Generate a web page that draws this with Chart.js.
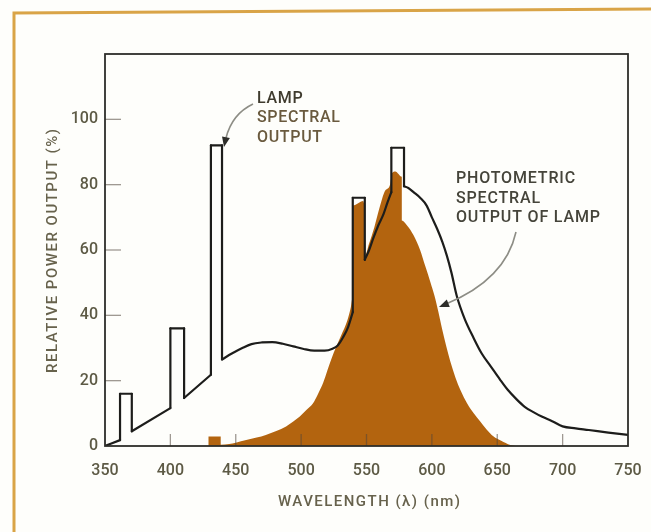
<!DOCTYPE html>
<html lang="en">
<head>
  <meta charset="UTF-8">
  <title>Lamp spectral output</title>
  <script src="https://cdn.jsdelivr.net/npm/chart.js"></script>
  <style>
    html, body { margin:0; padding:0; background:#fefefb; }
    #wrap { width:651px; height:532px; }
  </style>
</head>
<body>
<div id="wrap"><canvas id="c" width="651" height="532"></canvas></div>
<script>
// lamp spectral output (black line), nm / %
const lampNm = [350,361.5,361.5,370.5,370.5,400,400,410.5,410.5,431,431,439.5,439.5,447,455,462,470,478,486,494,502,510,518,524,528,532,536,539.5,539.5,548.7,548.7,552,555,559,563,566,569,569,578.7,578.7,582,586,591,596,600,604,608,611.5,615,619,625,632,638,645,652,658,665,671,678,684,692,700,710,720,735,750];
const lampPct = [0,1.8,16,16,4.5,11.6,36,36,14.7,21.8,92,92,26.5,28.3,30,31.2,31.7,31.8,31.3,30.5,29.7,29.2,29.2,29.8,30.8,33.2,36.5,41,76,76,57,60,63.4,67.5,71,74.5,77.7,91.3,91.3,79.5,79,77.7,76,73.6,70,66.5,62.5,58.2,53,46,39,33,28.4,24.4,20.4,17.2,14.2,12,10.3,9,7.6,6,5.4,4.9,4.1,3.4];

// photometric spectral output of lamp (orange fill)
const photoNm = [429,429,438.5,438.5,445,450,458,466,473,481,488.5,494,499,504,509,513,517,520,523,527,531,535,538,539.7,539.7,547.5,548.5,548.5,552,556,560,564,568,569.5,572,577,577,581,586,591,595,599,602,605,608,611,614,618,622,627,632,637,642,647,653,660,664];
const photoPct = [0,2.9,2.9,0.4,0.6,1,1.8,2.6,3.4,4.6,6,7.5,9,11,13,16,19.5,23,26.5,30.5,34.2,38,42.5,46,73.6,75,74,58,62,67,73,78,80,83.5,84,82.4,69,67.5,64.5,60,55,50,46,41,35.5,30.5,26,21,17,13,10,7.5,5,3,1.6,0.3,0];

const xTicks = [350,400,450,500,550,600,650,700,750];
const yTicks = [0,20,40,60,80,100];

const FONT = "Roboto,'Liberation Sans Narrow','DejaVu Sans',sans-serif";
const INK = '#5d5a45';

function arrowHead(ctx, tx, ty, ang, len, w){
  ctx.beginPath();
  ctx.moveTo(tx, ty);
  ctx.lineTo(tx - len*Math.cos(ang) + w*Math.sin(ang), ty - len*Math.sin(ang) - w*Math.cos(ang));
  ctx.lineTo(tx - len*Math.cos(ang) - w*Math.sin(ang), ty - len*Math.sin(ang) + w*Math.cos(ang));
  ctx.closePath(); ctx.fill();
}

// letter spacing so that the text spans a given width
function spacingFor(ctx, text, width){
  ctx.letterSpacing = '0px';
  const w = ctx.measureText(text).width;
  return Math.max(0, (width - w) / (text.length - 1)) + 'px';
}

const decor = {
  id:'decor',
  beforeDraw(chart){
    const ctx = chart.ctx;
    ctx.save();
    ctx.fillStyle = '#fefefb';
    ctx.fillRect(0,0,chart.width,chart.height);
    ctx.strokeStyle = '#d9a447'; ctx.lineWidth = 3;
    ctx.beginPath(); ctx.moveTo(14,532); ctx.lineTo(14,13); ctx.lineTo(651,9); ctx.stroke();
    ctx.restore();
  },
  afterDatasetsDraw(chart){
    const ctx = chart.ctx, a = chart.chartArea;
    const xs = chart.scales.x, ys = chart.scales.y;
    ctx.save();
    ctx.strokeStyle = 'rgba(80,70,60,0.55)'; ctx.lineWidth = 1.3;
    ys.ticks.forEach(t => {
      if (t.value <= 0 || t.value > 100) return;
      const y = ys.getPixelForValue(t.value);
      ctx.beginPath(); ctx.moveTo(a.left, y); ctx.lineTo(a.left+16, y); ctx.stroke();
    });
    xs.ticks.forEach(t => {
      if (t.value <= 350 || t.value >= 750) return;
      const x = xs.getPixelForValue(t.value);
      ctx.beginPath(); ctx.moveTo(x, a.bottom); ctx.lineTo(x, a.bottom-12); ctx.stroke();
    });
    ctx.strokeStyle = '#2e2e2a'; ctx.lineWidth = 1.8;
    ctx.strokeRect(a.left, a.top, a.right-a.left, a.bottom-a.top);
    ctx.restore();
  },
  afterDraw(chart){
    const ctx = chart.ctx;
    ctx.save();
    ctx.textBaseline = 'middle';
    ctx.fillStyle = '#67624c';
    ctx.font = '500 15px ' + FONT;
    ctx.textAlign = 'left';
    let t = 'WAVELENGTH (\u03bb) (nm)';
    ctx.letterSpacing = spacingFor(ctx, t, 182);
    ctx.fillText(t, 278, 502);
    t = 'RELATIVE POWER OUTPUT (%)';
    ctx.letterSpacing = spacingFor(ctx, t, 244);
    ctx.save();
    ctx.translate(53, 373); ctx.rotate(-Math.PI/2);
    ctx.fillText(t, 0, 0);
    ctx.restore();

    ctx.font = '500 16px ' + FONT;
    ctx.letterSpacing = spacingFor(ctx, 'SPECTRAL', 83);
    ctx.fillStyle = '#3f3b2e'; ctx.fillText('LAMP', 257, 99);
    ctx.fillStyle = '#6a5a3e'; ctx.fillText('SPECTRAL', 257, 118);
    ctx.fillText('OUTPUT', 257, 138);
    ctx.letterSpacing = spacingFor(ctx, 'OUTPUT OF LAMP', 144);
    ctx.fillStyle = '#45443a';
    ctx.fillText('PHOTOMETRIC', 456, 179);
    ctx.fillText('SPECTRAL', 456, 199);
    ctx.fillText('OUTPUT OF LAMP', 456, 218);

    ctx.strokeStyle = '#8d8d85'; ctx.fillStyle = '#2e2e2a'; ctx.lineWidth = 1.6;
    ctx.beginPath(); ctx.moveTo(253,104); ctx.quadraticCurveTo(232,114,226,138); ctx.stroke();
    arrowHead(ctx, 224, 147, Math.atan2(10,-2), 10, 4);
    ctx.beginPath(); ctx.moveTo(516,232); ctx.bezierCurveTo(508,268,480,290,446,304); ctx.stroke();
    arrowHead(ctx, 439, 307, Math.atan2(4,-10), 10, 4);
    ctx.restore();
  }
};

// split the lamp trace at its vertical edges so that the runs between them can be smooth
function lampPieces(){
  const pieces = [];
  let cur = [{x:lampNm[0], y:lampPct[0]}];
  for (let i = 1; i < lampNm.length; i++){
    const p = {x:lampNm[i], y:lampPct[i]};
    if (lampNm[i] === lampNm[i-1]){
      if (cur.length > 1) pieces.push(cur);
      pieces.push([cur[cur.length-1], p]);
      cur = [p];
    } else cur.push(p);
  }
  if (cur.length > 1) pieces.push(cur);
  return pieces;
}

const lampSets = lampPieces().map(pts => ({
  label:'Lamp spectral output', data:pts, borderColor:'#1d1d1b', borderWidth:2.2,
  borderJoinStyle:'round', borderCapStyle:'round',
  pointRadius:0, fill:false, cubicInterpolationMode:'monotone', order:0
}));

new Chart(document.getElementById('c'), {
  type:'line',
  data:{
    datasets:[
      ...lampSets,
      { label:'Photometric spectral output of lamp',
        data: photoNm.map((x,i) => ({x, y:photoPct[i]})), borderWidth:0,
        backgroundColor:'#b3640f', borderColor:'rgba(0,0,0,0)', pointRadius:0,
        fill:'origin', cubicInterpolationMode:'monotone', order:1 }
    ]
  },
  options:{
    responsive:false,
    animation:false,
    layout:{ padding:{ left:35, right:23, top:54, bottom:36 } },
    plugins:{ legend:{ display:false }, tooltip:{ enabled:false } },
    scales:{
      x:{
        type:'linear', min:350, max:750,
        afterBuildTicks: s => { s.ticks = xTicks.map(v => ({value:v})); },
        afterFit: s => { s.height = 50; s.paddingLeft = 0; s.paddingRight = 0; },
        grid:{ display:false, drawTicks:false },
        border:{ display:false },
        ticks:{ padding:15, color:INK, font:{ family:FONT, size:16, weight:'500' } }
      },
      y:{
        min:0, max:120,
        afterBuildTicks: s => { s.ticks = yTicks.map(v => ({value:v})); },
        afterFit: s => { s.width = 70; s.paddingTop = 0; s.paddingBottom = 0; },
        grid:{ display:false, drawTicks:false },
        border:{ display:false },
        ticks:{ padding:7, color:INK, font:{ family:FONT, size:16, weight:'500' } }
      }
    }
  },
  plugins:[decor]
});
</script>
</body>
</html>
